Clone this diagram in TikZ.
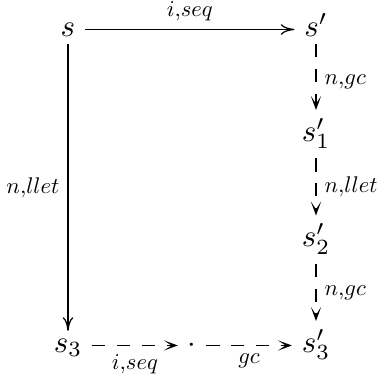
\documentclass[tikz,border=0pt]{standalone}
\usetikzlibrary{arrows.meta}
\tikzset{
  obj/.style={inner xsep=3pt, inner ysep=0.3pt, text height=6.4pt, text depth=2pt},
  solidar/.style={-{Computer Modern Rightarrow[length=4.4pt,width=3.4pt]}, line width=0.4pt},
  dashar/.style={-{Stealth[length=4.5pt,width=3.3pt,inset=2.5pt]}, dash pattern=on 4.3pt off 3.7pt, line width=0.4pt},
  lab/.style={scale=0.73, inner sep=3.6pt},
  fromsub/.style={shorten <=3pt},
  toprime/.style={shorten >=3.2pt}
}
\begin{document}
\begin{tikzpicture}[x=0.3226pt,y=-0.3226pt]
  \useasboundingbox (0,0) rectangle (377,376);
  \node[obj] (s)   at (68,29.5)   {$s$};
  \node[obj] (sp)  at (316,29.5)  {$s'$};
  \node[obj] (sp1) at (316,134.5) {$s'_1$};
  \node[obj] (sp2) at (316,240)   {$s'_2$};
  \node[obj] (s3)  at (68,345.5)  {$s_3$};
  \node[obj] (dot) at (192,345.5) {$\cdot$};
  \node[obj] (sp3) at (316,345.5) {$s'_3$};
  \draw[solidar] (s) -- node[lab,above] {$i{,}seq$} (sp);
  \draw[solidar] (s) -- node[lab,left] {$n{,}llet$} (s3);
  \draw[dashar,toprime] (sp) -- node[lab,right] {$n{,}gc$} (sp1);
  \draw[dashar,fromsub,toprime] (sp1) -- node[lab,right] {$n{,}llet$} (sp2);
  \draw[dashar,fromsub,toprime] (sp2) -- node[lab,right] {$n{,}gc$} (sp3);
  \draw[dashar] (s3) -- node[lab,below] {$i{,}seq$} (dot);
  \draw[dashar] (dot) -- node[lab,below] {$gc$} (sp3);
\end{tikzpicture}
\end{document}
